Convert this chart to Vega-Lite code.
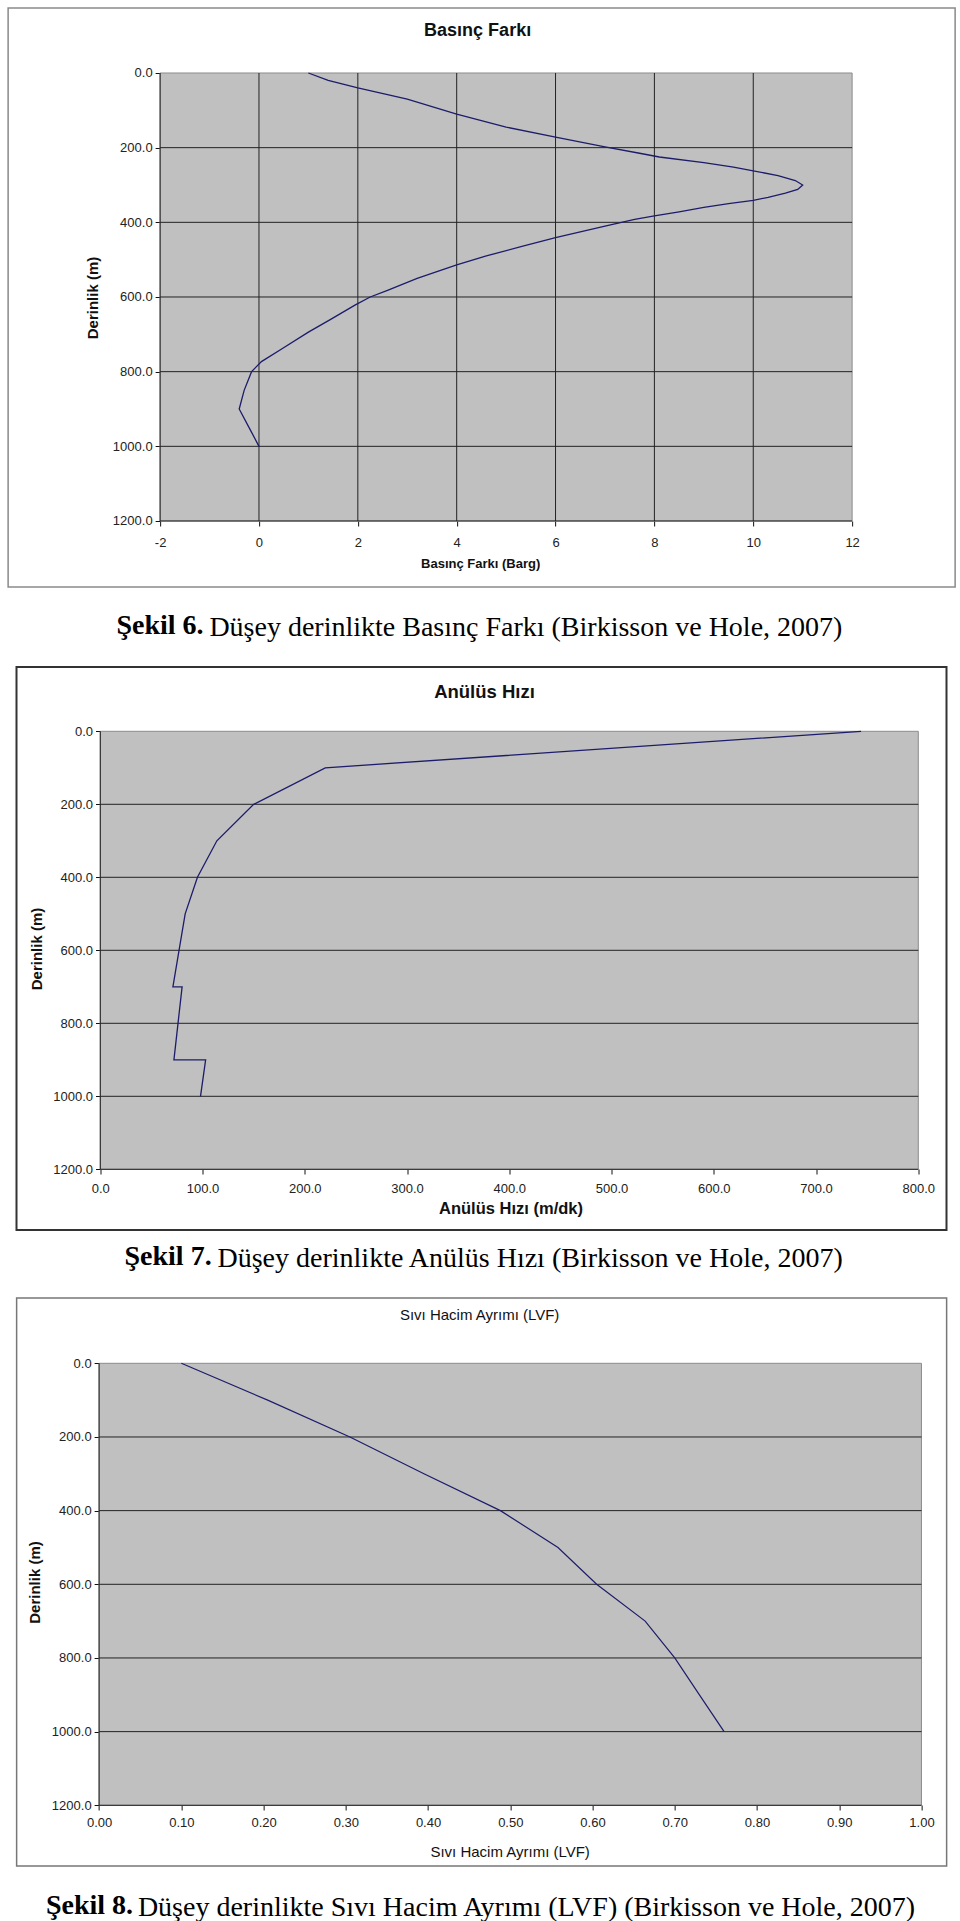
{
  "$schema": "https://vega.github.io/schema/vega-lite/v6.json",
  "background": "white",
  "padding": {"left": 7, "top": 7, "right": 0, "bottom": 0},
  "spacing": 24,
  "center": true,
  "config": {"font": "Liberation Sans", "title": {"color": "#111111"}},
  "vconcat": [
    {
      "title": {"text": "Düşey derinlikte Basınç Farkı  (Birkisson ve Hole, 2007)", "orient": "bottom", "anchor": "start", "dx": 202, "dy": -26, "offset": 0, "font": "Liberation Serif", "fontSize": 28, "fontWeight": "normal", "color": "#000000"},
      "vconcat": [
        {
          "title": {"text": "Şekil 6.", "orient": "bottom", "anchor": "start", "dx": 109, "offset": 24, "font": "Liberation Serif", "fontSize": 28, "fontWeight": "bold", "color": "#000000"},
          "vconcat": [
            {
              "width": 947,
              "height": 579,
              "view": {"stroke": "#8a8a8a", "strokeWidth": 1.5, "fill": "#ffffff"},
              "title": {"text": "Basınç Farkı", "orient": "top", "anchor": "middle", "offset": -32, "dx": -4, "fontSize": 18, "fontWeight": "bold", "font": "Liberation Sans"},
              "resolve": {"axis": {"x": "independent", "y": "independent"}},
              "layer": [
                {
                  "data": {"values": [{}]},
                  "mark": {"type": "rect", "fill": "#c0c0c0", "stroke": "#8c8c8c", "strokeWidth": 1},
                  "encoding": {
                    "x": {"datum": -2, "type": "quantitative", "scale": {"domain": [-5.075, 14.084], "nice": false, "zero": false}, "axis": null},
                    "x2": {"datum": 12},
                    "y": {"datum": 0, "type": "quantitative", "scale": {"domain": [-174.1, 1376.8], "nice": false, "zero": false, "reverse": true}, "axis": null},
                    "y2": {"datum": 1200}
                  }
                },
                {
                  "data": {"values": [{"g": -2}, {"g": 0}, {"g": 2}, {"g": 4}, {"g": 6}, {"g": 8}, {"g": 10}]},
                  "mark": {"type": "rule", "color": "#222222", "strokeWidth": 1},
                  "encoding": {
                    "x": {"field": "g", "type": "quantitative", "axis": null},
                    "y": {"datum": 0, "type": "quantitative", "axis": null},
                    "y2": {"datum": 1200}
                  }
                },
                {
                  "data": {"values": [{"h": 200}, {"h": 400}, {"h": 600}, {"h": 800}, {"h": 1000}, {"h": 1200}]},
                  "mark": {"type": "rule", "color": "#222222", "strokeWidth": 1},
                  "encoding": {
                    "y": {"field": "h", "type": "quantitative", "axis": null},
                    "x": {"datum": -2, "type": "quantitative", "axis": null},
                    "x2": {"datum": 12}
                  }
                },
                {
                  "data": {"values": [
                    {"d": 0, "p": 1.0}, {"d": 20, "p": 1.4}, {"d": 40, "p": 2.0}, {"d": 70, "p": 3.0}, {"d": 110, "p": 4.0},
                    {"d": 145, "p": 5.0}, {"d": 172, "p": 6.0}, {"d": 198, "p": 7.0}, {"d": 215, "p": 7.7}, {"d": 225, "p": 8.1},
                    {"d": 240, "p": 9.0}, {"d": 252, "p": 9.6}, {"d": 262, "p": 10.0}, {"d": 275, "p": 10.5}, {"d": 288, "p": 10.85},
                    {"d": 300, "p": 11.0}, {"d": 312, "p": 10.9}, {"d": 322, "p": 10.65}, {"d": 333, "p": 10.3}, {"d": 341, "p": 10.0},
                    {"d": 350, "p": 9.5}, {"d": 360, "p": 9.0}, {"d": 372, "p": 8.5}, {"d": 383, "p": 8.0}, {"d": 392, "p": 7.6},
                    {"d": 410, "p": 7.0}, {"d": 441, "p": 6.0}, {"d": 465, "p": 5.3}, {"d": 490, "p": 4.6}, {"d": 514, "p": 4.0},
                    {"d": 550, "p": 3.2}, {"d": 582, "p": 2.6}, {"d": 600, "p": 2.25}, {"d": 621, "p": 1.95}, {"d": 660, "p": 1.45},
                    {"d": 694, "p": 1.0}, {"d": 740, "p": 0.45}, {"d": 773, "p": 0.05}, {"d": 800, "p": -0.15}, {"d": 850, "p": -0.3},
                    {"d": 900, "p": -0.4}, {"d": 950, "p": -0.2}, {"d": 1000, "p": 0.0}
                  ]},
                  "mark": {"type": "line", "color": "#1c1c6b", "strokeWidth": 1.3},
                  "encoding": {
                    "x": {"field": "p", "type": "quantitative",
                      "axis": {"values": [-2, 0, 2, 4, 6, 8, 10, 12], "labelExpr": "datum.value + ''", "offset": -66, "domain": false, "grid": false, "ticks": true, "tickSize": 5, "tickColor": "#111111", "labelFontSize": 13, "labelColor": "#222222", "labelPadding": 10, "labelFlush": false, "labelOverlap": false, "title": "Basınç Farkı (Barg)", "titleFontSize": 13, "titleFontWeight": "bold", "titleColor": "#111111", "titlePadding": 8, "titleX": 472}},
                    "y": {"field": "d", "type": "quantitative",
                      "axis": {"values": [0, 200, 400, 600, 800, 1000, 1200], "format": ".1f", "offset": -152, "domain": false, "grid": false, "ticks": true, "tickSize": 5, "tickColor": "#111111", "labelFontSize": 13, "labelColor": "#222222", "labelPadding": 3, "labelFlush": false, "labelOverlap": false, "title": "Derinlik (m)", "titleFontSize": 15, "titleFontWeight": "bold", "titleColor": "#111111", "titlePadding": 12}},
                    "order": {"field": "d", "type": "quantitative"}
                  }
                }
              ]
            }
          ]
        }
      ]
    },
    {
      "title": {"text": "Düşey derinlikte Anülüs Hızı (Birkisson ve Hole, 2007)", "orient": "bottom", "anchor": "start", "dx": 202, "dy": -26, "offset": 0, "font": "Liberation Serif", "fontSize": 28, "fontWeight": "normal", "color": "#000000"},
      "vconcat": [
        {
          "title": {"text": "Şekil 7.", "orient": "bottom", "anchor": "start", "dx": 109, "offset": 12, "font": "Liberation Serif", "fontSize": 28, "fontWeight": "bold", "color": "#000000"},
          "vconcat": [
            {
              "width": 930,
              "height": 563,
              "view": {"stroke": "#333333", "strokeWidth": 2, "fill": "#ffffff"},
              "title": {"text": "Anülüs Hızı", "orient": "top", "anchor": "middle", "offset": -34, "dx": 3, "fontSize": 18.5, "fontWeight": "bold", "font": "Liberation Sans"},
              "resolve": {"axis": {"x": "independent", "y": "independent"}},
              "layer": [
                {
                  "data": {"values": [{}]},
                  "mark": {"type": "rect", "fill": "#c0c0c0", "stroke": "#8c8c8c", "strokeWidth": 1},
                  "encoding": {
                    "x": {"datum": 0, "type": "quantitative", "scale": {"domain": [-81.96, 827.58], "nice": false, "zero": false}, "axis": null},
                    "x2": {"datum": 800},
                    "y": {"datum": 0, "type": "quantitative", "scale": {"domain": [-176.2, 1366.3], "nice": false, "zero": false, "reverse": true}, "axis": null},
                    "y2": {"datum": 1200}
                  }
                },
                {
                  "data": {"values": [{"g": 0}]},
                  "mark": {"type": "rule", "color": "#222222", "strokeWidth": 1},
                  "encoding": {
                    "x": {"field": "g", "type": "quantitative", "axis": null},
                    "y": {"datum": 0, "type": "quantitative", "axis": null},
                    "y2": {"datum": 1200}
                  }
                },
                {
                  "data": {"values": [{"h": 200}, {"h": 400}, {"h": 600}, {"h": 800}, {"h": 1000}, {"h": 1200}]},
                  "mark": {"type": "rule", "color": "#222222", "strokeWidth": 1},
                  "encoding": {
                    "y": {"field": "h", "type": "quantitative", "axis": null},
                    "x": {"datum": 0, "type": "quantitative", "axis": null},
                    "x2": {"datum": 800}
                  }
                },
                {
                  "data": {"values": [
                    {"i": 1, "d": 0, "v": 744}, {"i": 2, "d": 100, "v": 220}, {"i": 3, "d": 200, "v": 150},
                    {"i": 4, "d": 300, "v": 114}, {"i": 5, "d": 400, "v": 95}, {"i": 6, "d": 500, "v": 83},
                    {"i": 7, "d": 600, "v": 77}, {"i": 8, "d": 700, "v": 71}, {"i": 9, "d": 700, "v": 80},
                    {"i": 10, "d": 800, "v": 76}, {"i": 11, "d": 900, "v": 72}, {"i": 12, "d": 900, "v": 103},
                    {"i": 13, "d": 1000, "v": 98}
                  ]},
                  "mark": {"type": "line", "color": "#1c1c6b", "strokeWidth": 1.3},
                  "encoding": {
                    "x": {"field": "v", "type": "quantitative",
                      "axis": {"values": [0, 100, 200, 300, 400, 500, 600, 700, 800], "format": ".1f", "offset": -61, "domain": false, "grid": false, "ticks": true, "tickSize": 5, "tickColor": "#111111", "labelFontSize": 13, "labelColor": "#222222", "labelPadding": 8.5, "labelFlush": false, "labelOverlap": false, "title": "Anülüs Hızı (m/dk)", "titleFontSize": 16.5, "titleFontWeight": "bold", "titleColor": "#111111", "titlePadding": 5, "titleX": 494}},
                    "y": {"field": "d", "type": "quantitative",
                      "axis": {"values": [0, 200, 400, 600, 800, 1000, 1200], "format": ".1f", "offset": -84, "domain": false, "grid": false, "ticks": true, "tickSize": 5, "tickColor": "#111111", "labelFontSize": 13, "labelColor": "#222222", "labelPadding": 3, "labelFlush": false, "labelOverlap": false, "title": "Derinlik (m)", "titleFontSize": 15, "titleFontWeight": "bold", "titleColor": "#111111", "titlePadding": 8}},
                    "order": {"field": "i", "type": "quantitative"}
                  }
                }
              ]
            }
          ]
        }
      ]
    },
    {
      "title": {"text": "Düşey derinlikte Sıvı Hacim Ayrımı (LVF) (Birkisson ve Hole, 2007)", "orient": "bottom", "anchor": "start", "dx": 122, "dy": -26, "offset": 0, "font": "Liberation Serif", "fontSize": 28, "fontWeight": "normal", "color": "#000000"},
      "vconcat": [
        {
          "title": {"text": "Şekil 8.", "orient": "bottom", "anchor": "start", "dx": 30, "offset": 25, "font": "Liberation Serif", "fontSize": 28, "fontWeight": "bold", "color": "#000000"},
          "vconcat": [
            {
              "width": 930,
              "height": 568,
              "view": {"stroke": "#777777", "strokeWidth": 1.5, "fill": "#ffffff"},
              "title": {"text": "Sıvı Hacim Ayrımı (LVF)", "orient": "top", "anchor": "middle", "offset": -25, "dx": -2, "fontSize": 15, "fontWeight": "normal", "font": "Liberation Sans"},
              "resolve": {"axis": {"x": "independent", "y": "independent"}},
              "layer": [
                {
                  "data": {"values": [{}]},
                  "mark": {"type": "rect", "fill": "#c0c0c0", "stroke": "#8c8c8c", "strokeWidth": 1},
                  "encoding": {
                    "x": {"datum": 0, "type": "quantitative", "scale": {"domain": [-0.1003, 1.0306], "nice": false, "zero": false}, "axis": null},
                    "x2": {"datum": 1},
                    "y": {"datum": 0, "type": "quantitative", "scale": {"domain": [-177.3, 1364.8], "nice": false, "zero": false, "reverse": true}, "axis": null},
                    "y2": {"datum": 1200}
                  }
                },
                {
                  "data": {"values": [{"g": 0}]},
                  "mark": {"type": "rule", "color": "#222222", "strokeWidth": 1},
                  "encoding": {
                    "x": {"field": "g", "type": "quantitative", "axis": null},
                    "y": {"datum": 0, "type": "quantitative", "axis": null},
                    "y2": {"datum": 1200}
                  }
                },
                {
                  "data": {"values": [{"h": 200}, {"h": 400}, {"h": 600}, {"h": 800}, {"h": 1000}, {"h": 1200}]},
                  "mark": {"type": "rule", "color": "#222222", "strokeWidth": 1},
                  "encoding": {
                    "y": {"field": "h", "type": "quantitative", "axis": null},
                    "x": {"datum": 0, "type": "quantitative", "axis": null},
                    "x2": {"datum": 1}
                  }
                },
                {
                  "data": {"values": [
                    {"d": 0, "f": 0.10}, {"d": 100, "f": 0.205}, {"d": 200, "f": 0.305}, {"d": 300, "f": 0.395},
                    {"d": 400, "f": 0.488}, {"d": 500, "f": 0.558}, {"d": 600, "f": 0.605}, {"d": 700, "f": 0.664},
                    {"d": 800, "f": 0.70}, {"d": 900, "f": 0.73}, {"d": 1000, "f": 0.76}
                  ]},
                  "mark": {"type": "line", "color": "#1c1c6b", "strokeWidth": 1.2},
                  "encoding": {
                    "x": {"field": "f", "type": "quantitative",
                      "axis": {"values": [0, 0.1, 0.2, 0.3, 0.4, 0.5, 0.6, 0.7, 0.8, 0.9, 1.0], "format": ".2f", "offset": -61, "domain": false, "grid": false, "ticks": true, "tickSize": 5, "tickColor": "#111111", "labelFontSize": 13, "labelColor": "#222222", "labelPadding": 6, "labelFlush": false, "labelOverlap": false, "title": "Sıvı Hacim Ayrımı (LVF)", "titleFontSize": 15, "titleFontWeight": "normal", "titleColor": "#111111", "titlePadding": 15, "titleX": 493}},
                    "y": {"field": "d", "type": "quantitative",
                      "axis": {"values": [0, 200, 400, 600, 800, 1000, 1200], "format": ".1f", "offset": -82.5, "domain": false, "grid": false, "ticks": true, "tickSize": 5, "tickColor": "#111111", "labelFontSize": 13, "labelColor": "#222222", "labelPadding": 3, "labelFlush": false, "labelOverlap": false, "title": "Derinlik (m)", "titleFontSize": 15, "titleFontWeight": "bold", "titleColor": "#111111", "titlePadding": 9}},
                    "order": {"field": "d", "type": "quantitative"}
                  }
                }
              ]
            }
          ]
        }
      ]
    }
  ]
}
